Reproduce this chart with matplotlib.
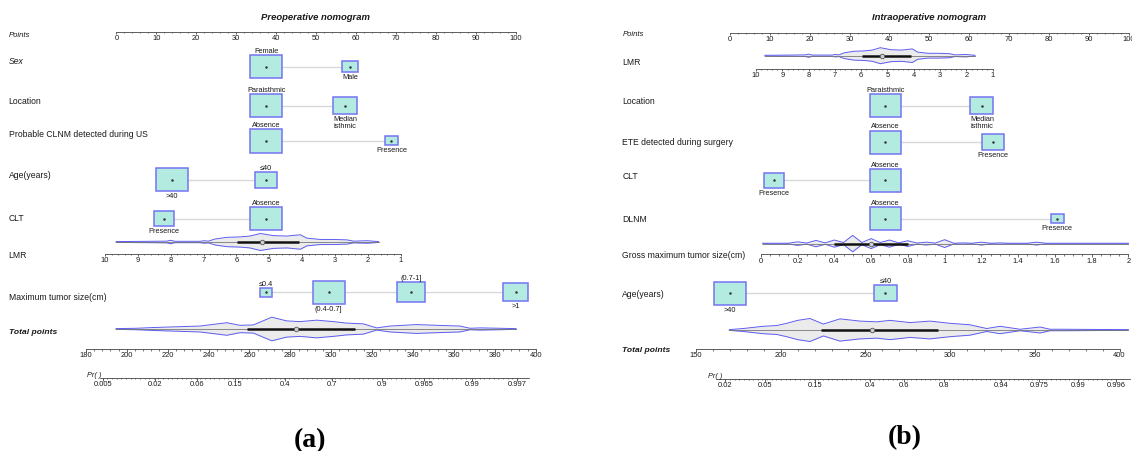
import numpy as np
import matplotlib.pyplot as plt
from matplotlib.patches import Rectangle

plt.rcParams['font.family'] = ['Liberation Sans', 'DejaVu Sans']

#%% panel (a): preoperative nomogram
a_rows = ['Sex', 'Location', 'Probable CLNM detected during US', 'Age(years)', 'CLT',
          'Maximum tumor size(cm)']
a_levels = [['Female', 'Male'], ['Paraisthmic', 'Median\nisthmic'], ['Absence', 'Presence'],
            ['>40', '≤40'], ['Presence', 'Absence'], ['≤0.4', '(0.4-0.7]', '(0.7-1]', '>1']]
a_points = [[37.5, 58.5], [37.5, 57.3], [37.5, 68.9], [13.9, 37.5], [11.9, 37.5],
            [37.5, 53.2, 73.8, 100]]
a_sizes = [[1.0, 0.49], [1.0, 0.72], [1.0, 0.39], [1.0, 0.69], [0.62, 1.0],
           [0.39, 0.99, 0.85, 0.76]]
a_prob_ticks = [0.005, 0.02, 0.06, 0.15, 0.4, 0.7, 0.9, 0.965, 0.99, 0.997]
a_total_ticks = list(range(180, 401, 20))

#%% panel (b): intraoperative nomogram
b_rows = ['Location', 'ETE detected during surgery', 'CLT', 'DLNM', 'Age(years)']
b_levels = [['Paraisthmic', 'Median\nisthmic'], ['Absence', 'Presence'], ['Presence', 'Absence'],
            ['Absence', 'Presence'], ['>40', '≤40']]
b_points = [[39.0, 63.2], [39.0, 66.0], [11.0, 39.0], [39.0, 82.1], [0.0, 39.0]]
b_sizes = [[1.0, 0.73], [1.0, 0.69], [0.65, 1.0], [1.0, 0.4], [1.0, 0.7]]
b_prob_ticks = [0.02, 0.05, 0.15, 0.4, 0.6, 0.8, 0.94, 0.975, 0.99, 0.996]
b_total_ticks = list(range(150, 401, 50))
b_gross_ticks = [0, 0.2, 0.4, 0.6, 0.8, 1, 1.2, 1.4, 1.6, 1.8, 2]

# violin outlines (value, relative half width)
lmr_vals = [9.66, 8.63, 8.12, 8.0, 7.87, 7.1, 6.98, 6.85, 6.65, 6.29, 5.88, 5.58, 5.27,
            4.87, 4.46, 4.05, 3.85, 3.45, 3.04, 2.63, 2.43, 2.02, 1.67]
lmr_dens = [0.05, 0.08, 0.1, 0.2, 0.08, 0.08, 0.15, 0.1, 0.35, 0.55, 0.6, 0.7, 1.0,
            0.75, 0.7, 0.85, 0.45, 0.3, 0.3, 0.25, 0.1, 0.15, 0.05]
lmr_box = [4.1, 5.97, 5.22]

gross_vals = [0.01, 0.1, 0.15, 0.2, 0.25, 0.3, 0.35, 0.4, 0.45, 0.5, 0.55, 0.6, 0.65, 0.7,
              0.75, 0.8, 0.85, 0.9, 0.95, 1.0, 1.05, 1.1, 1.15, 1.2, 1.25, 1.3, 1.35, 1.4,
              1.45, 1.5, 1.55, 1.6, 1.8, 2.0]
gross_dens = [1, 1, 1, 5, 1.5, 9, 2, 10, 3, 23, 3, 14, 3, 10, 2, 8, 1.5, 4, 1.5, 11, 1, 2,
              1, 4, 1, 2, 1, 1, 1, 4, 1, 1, 1, 1]
gross_box = [0.4, 0.8, 0.6]

a_tot_vals = [194.8, 204.9, 213.0, 224.4, 235.8, 248.9, 255.4, 261.9, 270.9, 278.2, 284.7,
              292.9, 301.0, 307.5, 315.6, 322.2, 328.7, 341.7, 351.5, 362.9, 367.8, 372.7,
              382.4, 390.3]
a_tot_dens = [1, 2, 4, 6, 8, 17, 10, 11, 32, 22, 20, 24, 20, 16, 14, 3, 8, 12, 10, 8, 2, 3,
              2, 1]
a_tot_box = [258.6, 311.6, 282.7]

b_tot_vals = [169.7, 177.9, 189.7, 197.6, 203.5, 210.0, 217.3, 225.2, 235.0, 246.8, 256.7,
              264.5, 276.3, 288.1, 300.0, 311.7, 321.6, 329.5, 341.3, 353.1, 359.0, 366.8,
              384.5, 405.2]
b_tot_dens = [1, 4, 10, 12, 18, 26, 31, 16, 30, 24, 22, 26, 20, 24, 18, 14, 4, 10, 2, 8, 2,
              2, 1.5, 1]
b_tot_box = [223.8, 293.0, 253.7]


def logit(p):
    p = np.asarray(p, dtype=float)
    return np.log(p / (1 - p))


# value -> points scales of each nomogram
a_lmr = lambda v: -2.86 + (10 - np.asarray(v)) * 8.229
a_tot = lambda t: -7.67 + (np.asarray(t) - 180) * 0.5126
a_pr = lambda p: 46.06 + 9.355 * logit(p)
b_lmr = lambda v: 6.52 + (10 - np.asarray(v)) * 6.593
b_gross = lambda g: 7.73 + np.asarray(g) * 46.09
b_tot = lambda t: -8.53 + (np.asarray(t) - 150) * 0.4249
b_pr = lambda p: 39.35 + 10.415 * logit(p)

AX = '#444444'
TXT = '#1a1a1a'


def scale_axis(ax, f, major, labels, minor, y, ext=None, fs=5.4):
    xm = f(np.array(major, dtype=float))
    xn = f(np.array(minor, dtype=float))
    x0, x1 = ext if ext else (xm.min(), xm.max())
    ax.plot([x0, x1], [y, y], color=AX, lw=0.6, zorder=2)
    ax.vlines(xm, y, y + 2.6, color=AX, lw=0.6)
    ax.vlines(xn, y, y + 1.5, color=AX, lw=0.5)
    for x, l in zip(xm, labels):
        ax.text(x, y + 2.4, l, ha='center', va='top', fontsize=fs, color=TXT)


def violin(ax, f, vals, dens, y, hw, box):
    x = f(np.array(vals, dtype=float))
    d = np.array(dens, dtype=float)
    h = d / d.max() * hw
    ax.fill_between(x, y - h, y + h, color='#ebebeb', lw=0, zorder=2)
    ax.plot(x, y - h, color='#5c5cf0', lw=0.7, zorder=3)
    ax.plot(x, y + h, color='#5c5cf0', lw=0.7, zorder=3)
    ax.plot([x.min(), x.max()], [y, y], color='#777777', lw=0.6, zorder=3)
    ax.plot(f(np.array(box[:2])), [y, y], color='#111111', lw=1.8, zorder=4,
            solid_capstyle='butt')
    ax.plot(f(box[2]), y, 'o', ms=3.3, mfc='#cfcfcf', mec='#555555', mew=0.6, zorder=5)


def factor_row(ax, pts, sizes, labels, sides, y, wmax, hmax):
    ax.plot([min(pts), max(pts)], [y, y], color='#d8d8d8', lw=1.0, zorder=1)
    for p, s, l, sd in zip(pts, sizes, labels, sides):
        w, h = s * wmax, s * hmax
        ax.add_patch(Rectangle((p - w / 2, y - h / 2), w, h, fc='#b3ebe1', ec='#7474f2',
                               lw=1.1, zorder=3))
        ax.plot(p, y, '.', ms=1.6, color='#333333', zorder=4)
        if sd == 'u':
            ax.text(p, y - h / 2 - 1.0, l, ha='center', va='bottom', fontsize=5.3, color=TXT)
        else:
            ax.text(p, y + h / 2 + 1.0, l, ha='center', va='top', fontsize=5.3, color=TXT,
                    linespacing=1.05)


def row_label(ax, y, s, style='normal', weight='normal', fs=6.2):
    ax.text(-27, y, s, ha='left', va='center', fontsize=fs, style=style, weight=weight,
            color=TXT)


fig = plt.figure(figsize=(11.32, 4.52), dpi=100)
axa = fig.add_axes([0, 0, 0.5, 1])
axb = fig.add_axes([0.5, 0, 0.5, 1])
axa.set_xlim((0 - 116.4) / 3.991, (566 - 116.4) / 3.991)
axb.set_xlim((566 - 730) / 3.987, (1132 - 730) / 3.987)
for ax in (axa, axb):
    ax.set_ylim(452, 0)
    ax.set_axis_off()

ident = lambda v: np.asarray(v)
pt_major = list(range(0, 101, 10))
pt_minor = [v for v in range(0, 101, 2) if v % 10]

#%% panel (a)
axa.text(50, 17, 'Preoperative nomogram', ha='center', va='center', fontsize=6.8,
         style='italic', weight='bold', color=TXT)
row_label(axa, 35.5, 'Points', style='italic', fs=5.6)
scale_axis(axa, ident, pt_major, [str(v) for v in pt_major], pt_minor, 32.7)

a_label_y = [62, 102, 134.8, 175.4, 218.8, 298]
a_box_y = [67.5, 106.7, 141.8, 180.7, 219.6, 293.4]
a_sides = [['u', 'd'], ['u', 'd'], ['u', 'd'], ['d', 'u'], ['d', 'u'], ['u', 'd', 'u', 'd']]
for i, name in enumerate(a_rows):
    row_label(axa, a_label_y[i], name, style='italic' if i == 0 else 'normal')
    factor_row(axa, a_points[i], a_sizes[i], a_levels[i], a_sides[i], a_box_y[i],
               32.4 / 3.991, 23.5)

row_label(axa, 255, 'LMR')
violin(axa, a_lmr, lmr_vals, lmr_dens, 243, 8.5, lmr_box)
lmr_major = list(range(10, 0, -1))
lmr_minor = [round(v, 1) for v in np.arange(1, 10, 0.2) if abs(v - round(v)) > 0.01]
scale_axis(axa, a_lmr, lmr_major, [str(v) for v in lmr_major], lmr_minor, 254.8)

row_label(axa, 332.6, 'Total points', style='italic', weight='bold', fs=6.1)
violin(axa, a_tot, a_tot_vals, a_tot_dens, 330, 11.8, a_tot_box)
a_tot_minor = [v for v in range(180, 401, 4) if (v - 180) % 20]
scale_axis(axa, a_tot, a_total_ticks, [str(v) for v in a_total_ticks], a_tot_minor, 350)

axa.text(a_pr(0.005) - 0.3, 375.5, 'Pr( )', ha='right', va='center', fontsize=5.3,
         style='italic', color=TXT)
a_pr_minor = np.linspace(a_pr(0.005), a_pr(0.997), 90)
scale_axis(axa, a_pr, a_prob_ticks, [str(v) for v in a_prob_ticks],
           [], 379, ext=(-4.1, 103.5))
axa.vlines(a_pr_minor, 379, 380.4, color=AX, lw=0.5)

axa.text(48.5, 441, '(a)', ha='center', va='center', fontsize=20, weight='bold',
         family='Liberation Serif', color='black')

#%% panel (b)
axb.text(50, 17.5, 'Intraoperative nomogram', ha='center', va='center', fontsize=6.8,
         style='italic', weight='bold', color=TXT)
row_label(axb, 34, 'Points', style='italic', fs=5.6)
scale_axis(axb, ident, pt_major, [str(v) for v in pt_major], pt_minor, 33.6)

row_label(axb, 62.8, 'LMR')
violin(axb, b_lmr, lmr_vals, lmr_dens, 56.7, 8.0, lmr_box)
scale_axis(axb, b_lmr, lmr_major, [str(v) for v in lmr_major], lmr_minor, 69.6)

b_label_y = [101.8, 143, 176.8, 219.3, 294.5]
b_box_y = [106.5, 143, 181.2, 219.7, 294.4]
b_sides = [['u', 'd'], ['u', 'd'], ['d', 'u'], ['u', 'd'], ['d', 'u']]
for i, name in enumerate(b_rows):
    row_label(axb, b_label_y[i], name)
    factor_row(axb, b_points[i], b_sizes[i], b_levels[i], b_sides[i], b_box_y[i],
               31.5 / 3.987, 23.0)

row_label(axb, 256, 'Gross maximum tumor size(cm)')
violin(axb, b_gross, gross_vals, gross_dens, 244.6, 8.2, gross_box)
gross_minor = [round(v, 2) for v in np.arange(0, 2.001, 0.05) if round(v * 100) % 20]
scale_axis(axb, b_gross, b_gross_ticks, ['0', '0.2', '0.4', '0.6', '0.8', '1', '1.2', '1.4',
                                          '1.6', '1.8', '2'], gross_minor, 255.4)

violin(axb, b_tot, b_tot_vals, b_tot_dens, 331, 11.5, b_tot_box)
row_label(axb, 350.2, 'Total points', style='italic', weight='bold', fs=6.1)
b_tot_minor = [v for v in range(150, 401, 10) if v % 50]
scale_axis(axb, b_tot, b_total_ticks, [str(v) for v in b_total_ticks], b_tot_minor, 350)

axb.text(b_pr(0.02) - 0.8, 377, 'Pr( )', ha='right', va='center', fontsize=5.3,
         style='italic', color=TXT)
b_pr_minor = np.linspace(b_pr(0.02), b_pr(0.996), 85)
scale_axis(axb, b_pr, b_prob_ticks, [str(v) for v in b_prob_ticks],
           [], 380, ext=(-3.26, 100.3))
axb.vlines(b_pr_minor, 380, 381.4, color=AX, lw=0.5)

axb.text(43.9, 438, '(b)', ha='center', va='center', fontsize=20, weight='bold',
         family='Liberation Serif', color='black')

fig.savefig('out.png', dpi=100)
plt.close()
